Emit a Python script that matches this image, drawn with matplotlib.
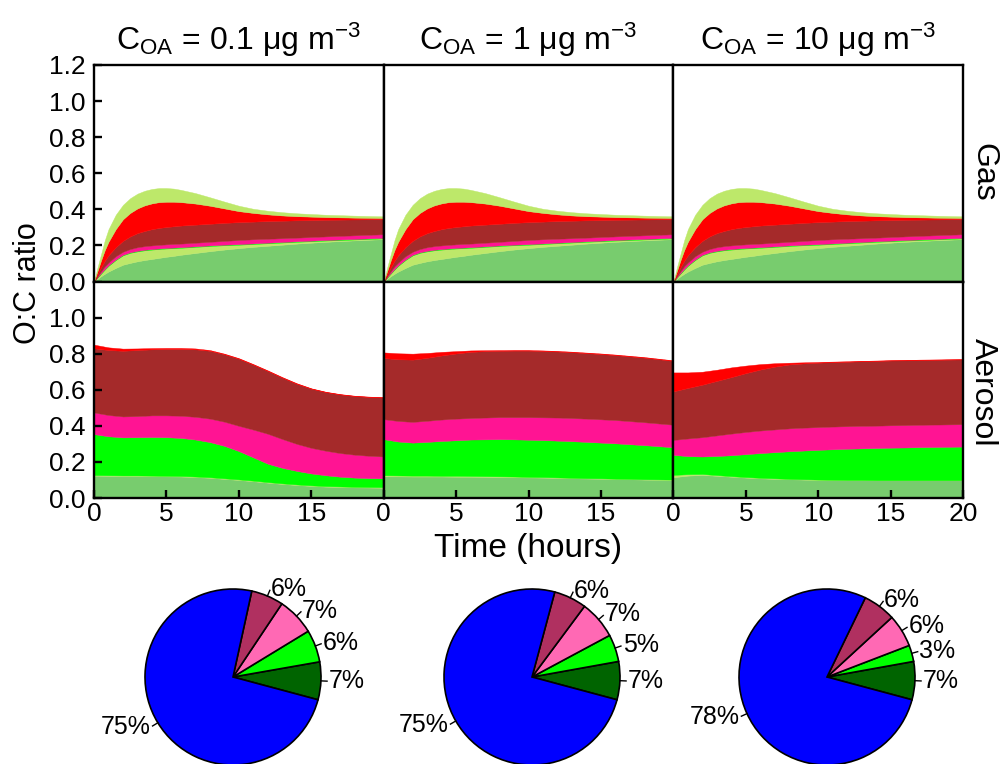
import numpy as np
import matplotlib.pyplot as plt

plt.rcParams['font.family'] = ['Liberation Sans', 'DejaVu Sans']
plt.rcParams['mathtext.fontset'] = 'custom'
plt.rcParams['mathtext.rm'] = 'Liberation Sans'
plt.rcParams['mathtext.it'] = 'Liberation Sans:italic'

# ---- data ----
titles = [r'C$_{\mathrm{OA}}$ = 0.1 μg m$^{-3}$',
          r'C$_{\mathrm{OA}}$ = 1 μg m$^{-3}$',
          r'C$_{\mathrm{OA}}$ = 10 μg m$^{-3}$']

# gas phase O:C, cumulative layer tops (same in every panel)
t_gas = [0, 0.25, 0.5, 0.75, 1, 1.5, 2, 2.5, 3, 3.5, 4, 4.5, 5, 5.5, 6, 7, 8, 9, 10, 11, 12, 13, 14, 16, 18, 20]
gas_mid = [0, 0.015, 0.03, 0.043, 0.055, 0.075, 0.093, 0.103, 0.112, 0.119, 0.125, 0.131, 0.137, 0.142, 0.148,
           0.158, 0.168, 0.177, 0.185, 0.192, 0.198, 0.204, 0.21, 0.22, 0.228, 0.235]
gas_ygr = [0, 0.023, 0.045, 0.067, 0.087, 0.119, 0.145, 0.159, 0.167, 0.173, 0.177, 0.18, 0.183, 0.185, 0.187,
           0.192, 0.197, 0.201, 0.204, 0.208, 0.212, 0.216, 0.22, 0.227, 0.233, 0.239]
gas_green = [0, 0.025, 0.048, 0.07, 0.09, 0.122, 0.148, 0.162, 0.17, 0.176, 0.18, 0.183, 0.186, 0.188, 0.19,
             0.195, 0.2, 0.204, 0.207, 0.211, 0.215, 0.219, 0.223, 0.23, 0.236, 0.242]
gas_pink = [0, 0.03, 0.058, 0.085, 0.105, 0.14, 0.165, 0.18, 0.19, 0.196, 0.2, 0.203, 0.206, 0.208, 0.21,
            0.215, 0.22, 0.225, 0.23, 0.234, 0.237, 0.24, 0.243, 0.25, 0.256, 0.262]
gas_brown = [0, 0.04, 0.08, 0.115, 0.145, 0.19, 0.225, 0.25, 0.268, 0.28, 0.29, 0.297, 0.302, 0.306, 0.31,
             0.315, 0.32, 0.325, 0.329, 0.332, 0.335, 0.337, 0.339, 0.342, 0.344, 0.346]
gas_red = [0, 0.06, 0.12, 0.175, 0.22, 0.29, 0.345, 0.38, 0.405, 0.422, 0.433, 0.44, 0.442, 0.442, 0.44,
           0.432, 0.42, 0.405, 0.39, 0.38, 0.372, 0.366, 0.362, 0.357, 0.354, 0.352]
gas_top = [0, 0.08, 0.155, 0.23, 0.29, 0.37, 0.425, 0.462, 0.487, 0.503, 0.513, 0.518, 0.518, 0.515, 0.508,
           0.49, 0.467, 0.443, 0.42, 0.403, 0.392, 0.384, 0.378, 0.37, 0.365, 0.361]

# aerosol O:C, cumulative layer tops, one list per panel
t_aer = [0, 1, 2, 3, 4, 5, 6, 7, 8, 9, 10, 11, 12, 13, 14, 15, 16, 17, 18, 19, 20]
aer_mid = [[0.124, 0.123, 0.122, 0.122, 0.121, 0.120, 0.119, 0.116, 0.112, 0.106, 0.100, 0.093, 0.085, 0.078, 0.072,
            0.067, 0.063, 0.061, 0.059, 0.058, 0.057],
           [0.120, 0.120, 0.119, 0.119, 0.119, 0.118, 0.118, 0.117, 0.116, 0.115, 0.114, 0.113, 0.111, 0.110, 0.108,
            0.107, 0.105, 0.104, 0.102, 0.101, 0.100],
           [0.115, 0.124, 0.128, 0.123, 0.118, 0.113, 0.109, 0.106, 0.104, 0.102, 0.100, 0.100, 0.099, 0.099, 0.098,
            0.098, 0.098, 0.098, 0.098, 0.098, 0.098]]
aer_ygr = [[0.127, 0.126, 0.125, 0.125, 0.124, 0.123, 0.122, 0.119, 0.115, 0.109, 0.103, 0.096, 0.088, 0.081, 0.075,
            0.070, 0.066, 0.064, 0.062, 0.061, 0.060],
           [0.126, 0.125, 0.124, 0.124, 0.123, 0.123, 0.122, 0.121, 0.120, 0.119, 0.117, 0.116, 0.114, 0.112, 0.110,
            0.109, 0.107, 0.106, 0.104, 0.103, 0.102],
           [0.128, 0.132, 0.133, 0.127, 0.121, 0.116, 0.112, 0.109, 0.106, 0.104, 0.102, 0.101, 0.100, 0.100, 0.099,
            0.099, 0.099, 0.099, 0.099, 0.099, 0.099]]
aer_green = [[0.354, 0.342, 0.336, 0.337, 0.338, 0.337, 0.333, 0.324, 0.310, 0.289, 0.260, 0.225, 0.190, 0.167, 0.150,
              0.136, 0.126, 0.118, 0.113, 0.110, 0.109],
             [0.326, 0.313, 0.307, 0.311, 0.316, 0.320, 0.324, 0.325, 0.326, 0.325, 0.323, 0.321, 0.318, 0.315, 0.311,
              0.307, 0.303, 0.298, 0.293, 0.287, 0.281],
             [0.239, 0.232, 0.230, 0.233, 0.237, 0.243, 0.249, 0.254, 0.259, 0.263, 0.267, 0.270, 0.273, 0.275, 0.277,
              0.279, 0.280, 0.282, 0.283, 0.284, 0.285]]
aer_pink = [[0.474, 0.460, 0.452, 0.454, 0.458, 0.458, 0.456, 0.450, 0.440, 0.423, 0.400, 0.379, 0.356, 0.327, 0.300,
             0.278, 0.262, 0.249, 0.240, 0.234, 0.230],
            [0.437, 0.427, 0.422, 0.428, 0.435, 0.440, 0.443, 0.446, 0.448, 0.448, 0.448, 0.447, 0.446, 0.443, 0.440,
             0.436, 0.432, 0.426, 0.420, 0.413, 0.406],
            [0.322, 0.330, 0.337, 0.347, 0.357, 0.366, 0.374, 0.380, 0.386, 0.390, 0.393, 0.396, 0.398, 0.400, 0.401,
             0.403, 0.404, 0.406, 0.407, 0.408, 0.409]]
aer_brown = [[0.830, 0.820, 0.816, 0.820, 0.824, 0.826, 0.826, 0.824, 0.816, 0.797, 0.772, 0.739, 0.704, 0.667, 0.633,
              0.606, 0.587, 0.574, 0.565, 0.560, 0.557],
             [0.776, 0.769, 0.767, 0.777, 0.790, 0.801, 0.810, 0.814, 0.816, 0.817, 0.817, 0.815, 0.812, 0.808, 0.803,
              0.798, 0.792, 0.785, 0.778, 0.769, 0.760],
             [0.591, 0.610, 0.628, 0.649, 0.670, 0.692, 0.712, 0.728, 0.740, 0.746, 0.750, 0.753, 0.755, 0.758, 0.760,
              0.762, 0.763, 0.765, 0.766, 0.767, 0.768]]
aer_red = [[0.850, 0.835, 0.828, 0.829, 0.831, 0.832, 0.832, 0.829, 0.820, 0.800, 0.775, 0.742, 0.707, 0.670, 0.636,
            0.608, 0.589, 0.576, 0.567, 0.562, 0.559],
           [0.807, 0.802, 0.800, 0.804, 0.810, 0.814, 0.818, 0.819, 0.820, 0.820, 0.820, 0.818, 0.815, 0.811, 0.806,
            0.801, 0.795, 0.788, 0.781, 0.772, 0.763],
           [0.696, 0.696, 0.700, 0.711, 0.724, 0.734, 0.742, 0.747, 0.750, 0.752, 0.754, 0.756, 0.758, 0.760, 0.762,
            0.764, 0.765, 0.767, 0.768, 0.769, 0.770]]

# pie charts (slices counter-clockwise from the right)
pie_values = [[7, 6, 7, 6, 75], [7, 5, 7, 6, 75], [7, 3, 6, 6, 78]]
pie_colors = ['#006400', '#00FF00', '#FF69B4', '#B03060', '#0000FF']

c_mid, c_ygr, c_green = '#78CC6E', '#BDE86A', '#00FF00'
c_pink, c_brown, c_red = '#FF1493', '#A52A2A', '#FF0000'

W, H = 1003, 764
fig = plt.figure(figsize=(W / 100, H / 100), dpi=100)


def fx(x):
    return x / W


def fy(y):
    return 1 - y / H


x0, pw = 94, 289.7
y0, rh = 65, 216.5

for r in range(2):
    for c in range(3):
        ax = fig.add_axes([fx(x0 + c * pw), fy(y0 + (r + 1) * rh), pw / W, rh / H])
        if r == 0:
            tt = t_gas
            bounds = [np.zeros(len(t_gas)), gas_mid, gas_ygr, gas_green, gas_pink, gas_brown, gas_red, gas_top]
            cols = [c_mid, c_ygr, c_green, c_pink, c_brown, c_red, c_ygr]
        else:
            tt = t_aer
            bounds = [np.zeros(len(t_aer)), aer_mid[c], aer_ygr[c], aer_green[c], aer_pink[c], aer_brown[c], aer_red[c]]
            cols = [c_mid, c_ygr, c_green, c_pink, c_brown, c_red]
        for k in range(len(cols)):
            ax.fill_between(tt, bounds[k], bounds[k + 1], color=cols[k], lw=0.3)
        ax.set_xlim(0, 20)
        ax.set_ylim(0, 1.2)
        for s in ax.spines.values():
            s.set_linewidth(1.7)
        ax.tick_params(direction='in', length=6, width=1.7, labelsize=19,
                       top=False, right=False, pad=6)
        if r == 0:
            ax.tick_params(bottom=False, labelbottom=False)
            ax.set_yticks([0, 0.2, 0.4, 0.6, 0.8, 1.0, 1.2])
        else:
            ax.set_xticks([0, 5, 10, 15, 20] if c == 2 else [0, 5, 10, 15])
            ax.set_yticks([0, 0.2, 0.4, 0.6, 0.8, 1.0])
        ax.yaxis.set_major_formatter(plt.FormatStrFormatter('%.1f'))
        if c > 0:
            ax.tick_params(left=False, labelleft=False)
        ax.tick_params(axis='x', pad=3)

for c in range(3):
    fig.text(fx(x0 + (c + 0.5) * pw), fy(50), titles[c], ha='center', va='baseline', fontsize=23)

fig.text(fx(528), fy(548), 'Time (hours)', ha='center', va='center', fontsize=24)
fig.text(fx(28), fy(283), 'O:C ratio', ha='center', va='center', rotation=90, fontsize=22)
fig.text(fx(983), fy(172), 'Gas', ha='center', va='center', rotation=-90, fontsize=23)
fig.text(fx(983), fy(392), 'Aerosol', ha='center', va='center', rotation=-90, fontsize=23)

# pies
pie_cx = [233, 532, 827]
R = 88
lim = 1.3
for c in range(3):
    half = lim * R
    pax = fig.add_axes([(pie_cx[c] - half) / W, (H - 677 - half) / H, 2 * half / W, 2 * half / H])
    wedges, _ = pax.pie(pie_values[c], colors=pie_colors, startangle=-15, counterclock=True,
                        wedgeprops=dict(edgecolor='black', linewidth=1.2))
    pax.set_xlim(-lim, lim)
    pax.set_ylim(-lim, lim)
    pax.set_aspect('equal')
    pax.axis('off')
    for w, v in zip(wedges, pie_values[c]):
        a = np.deg2rad((w.theta1 + w.theta2) / 2)
        ca, sa = np.cos(a), np.sin(a)
        pax.plot([ca, 1.07 * ca], [sa, 1.07 * sa], color='black', lw=1.0)
        pax.text(1.09 * ca, 1.09 * sa, f'{v}%', ha='left' if ca > 0 else 'right',
                 va='center', fontsize=18)

fig.savefig('out.png', dpi=100)
